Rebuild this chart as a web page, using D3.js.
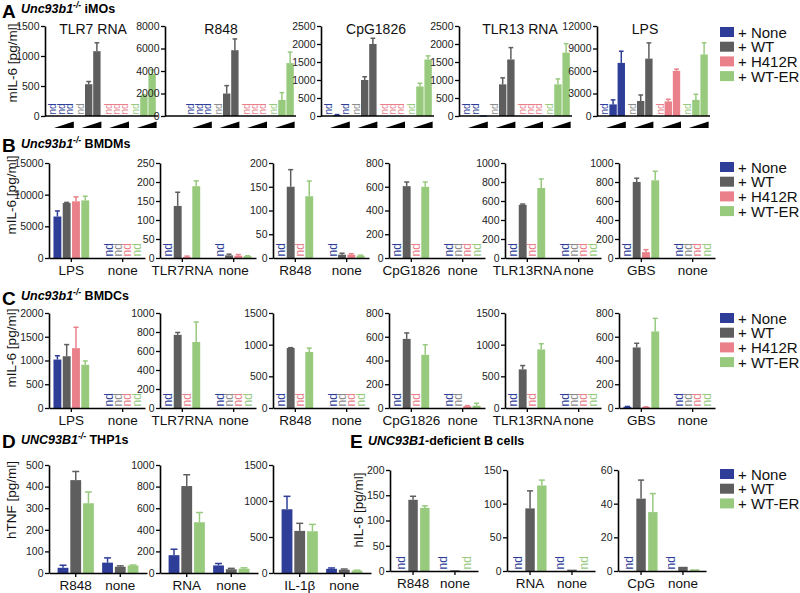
<!DOCTYPE html>
<html><head><meta charset="utf-8">
<script src="https://cdn.jsdelivr.net/npm/d3@7"></script>
<style>body{margin:0;background:#fff;} svg{display:block;}</style>
</head><body><svg id="c" width="800" height="593"></svg>
<script>
// ---------- DATA ----------
const seriesNames = ["+ None", "+ WT", "+ H412R", "+ WT-ER"];
const seriesColors = ["#2e3e98", "#5e5e5e", "#e9808a", "#98ca7e"];
const ndColors = ["#2e3e98", "#8c8c8c", "#e9808a", "#98ca7e"];

// Panel A (groups = None, WT, H412R, WT-ER; 3 doses each; null = nd)
const aTitles = ["TLR7 RNA", "R848", "CpG1826", "TLR13 RNA", "LPS"];
const aMax = [1500, 8000, 2500, 2500, 12000];
const aTicks = [[0, 500, 1000, 1500], [0, 2000, 4000, 6000, 8000], [0, 500, 1000, 1500, 2000, 2500], [0, 500, 1000, 1500, 2000, 2500], [0, 3000, 6000, 9000, 12000]];
const aValues = [
  [[null, null, null], [null, 530, 1080], [null, null, null], [null, 345, 700]],
  [[null, null, null], [null, 2000, 5850], [null, null, null], [null, 1430, 4700]],
  [[null, 30, null], [null, 1000, 2000], [null, null, null], [null, 820, 1570]],
  [[null, null, 15], [null, 880, 1570], [null, null, null], [null, 880, 1760]],
  [[null, 1550, 7080], [null, 2000, 7650], [null, 1950, 6020], [null, 2150, 8200]]
];
const aErrors = [
  [[0, 0, 0], [0, 45, 140], [0, 0, 0], [0, 8, 70]],
  [[0, 0, 0], [0, 700, 1000], [0, 0, 0], [0, 650, 980]],
  [[0, 10, 0], [0, 90, 160], [0, 0, 0], [0, 90, 100]],
  [[0, 0, 0], [0, 180, 330], [0, 0, 0], [0, 150, 250]],
  [[0, 600, 1560], [0, 800, 2100], [0, 280, 230], [0, 750, 1560]]
];

// Panel B (series = None, WT, H412R, WT-ER)
const bCategories = [["LPS", "none"], ["TLR7RNA", "none"], ["R848", "none"], ["CpG1826", "none"], ["TLR13RNA", "none"], ["GBS", "none"]];
const bMax = [15000, 250, 200, 800, 1000, 1000];
const bTicks = [[0, 5000, 10000, 15000], [0, 50, 100, 150, 200, 250], [0, 50, 100, 150, 200], [0, 200, 400, 600, 800], [0, 200, 400, 600, 800, 1000], [0, 200, 400, 600, 800, 1000]];
const bValues = [
  [[6550, 8680, 8950, 9100], [null, null, null, null]],
  [[null, 137, 3, 189], [null, 7, 6, 5]],
  [[null, 150, null, 130], [null, 7, 7, 5]],
  [[null, 605, null, 600], [null, null, null, null]],
  [[null, 560, null, 737], [null, null, null, null]],
  [[null, 800, 62, 818], [null, null, null, null]]
];
const bErrors = [
  [[880, 100, 700, 650], [0, 0, 0, 0]],
  [[0, 36, 2, 14], [0, 3, 3, 1]],
  [[0, 36, 0, 32], [0, 3, 2, 1]],
  [[0, 35, 0, 40], [0, 0, 0, 0]],
  [[0, 8, 0, 95], [0, 0, 0, 0]],
  [[0, 40, 26, 95], [0, 0, 0, 0]]
];

// Panel C
const cCategories = [["LPS", "none"], ["TLR7RNA", "none"], ["R848", "none"], ["CpG1826", "none"], ["TLR13RNA", "none"], ["GBS", "none"]];
const cMax = [2000, 1000, 1500, 800, 1500, 800];
const cTicks = [[0, 500, 1000, 1500, 2000], [0, 200, 400, 600, 800, 1000], [0, 500, 1000, 1500], [0, 200, 400, 600, 800], [0, 500, 1000, 1500], [0, 200, 400, 600, 800]];
const cValues = [
  [[1020, 1090, 1260, 910], [null, null, null, null]],
  [[null, 770, null, 695], [null, null, null, null]],
  [[null, 948, null, 885], [null, null, null, null]],
  [[null, 582, null, 448], [null, null, 15, 20]],
  [[null, 610, null, 925], [null, null, null, null]],
  [[10, 510, 8, 645], [null, null, null, null]]
];
const cErrors = [
  [[80, 245, 440, 80], [0, 0, 0, 0]],
  [[0, 25, 0, 210], [0, 0, 0, 0]],
  [[0, 5, 0, 60], [0, 0, 0, 0]],
  [[0, 50, 0, 85], [0, 0, 5, 20]],
  [[0, 60, 0, 90], [0, 0, 0, 0]],
  [[3, 35, 2, 110], [0, 0, 0, 0]]
];

// Panel D (series = None, WT, WT-ER)
const dSeries = [0, 1, 3];
const dCategories = [["R848", "none"], ["RNA", "none"], ["IL-1β", "none"]];
const dMax = [500, 1000, 1500];
const dTicks = [[0, 100, 200, 300, 400, 500], [0, 200, 400, 600, 800, 1000], [0, 500, 1000, 1500]];
const dValues = [
  [[24, 430, 323], [48, 29, 35]],
  [[165, 805, 470], [70, 35, 40]],
  [[885, 585, 580], [58, 45, 33]]
];
const dErrors = [
  [[12, 40, 52], [22, 4, 2]],
  [[55, 105, 90], [18, 8, 8]],
  [[180, 105, 95], [12, 10, 6]]
];

// Panel E (series = None, WT, WT-ER)
const eSeries = [0, 1, 3];
const eCategories = [["R848", "none"], ["RNA", "none"], ["CpG", "none"]];
const eMax = [200, 150, 60];
const eTicks = [[0, 50, 100, 150, 200], [0, 50, 100, 150], [0, 20, 40, 60]];
const eValues = [
  [[null, 141, 125], [null, 1.5, null]],
  [[null, 93, 127], [null, 2, null]],
  [[null, 43, 35], [null, 2.5, 1]]
];
const eErrors = [
  [[0, 7, 4], [0, 0, 0]],
  [[0, 26, 8], [0, 0, 0]],
  [[0, 11, 11], [0, 0, 0]]
];

// ---------- DRAWING ----------
const FONT = "'Liberation Sans', Arial, Helvetica, sans-serif";
const svg = d3.select("#c").attr("font-family", FONT);

function drawYAxis(g, y, ticks, x) {
  const ax = d3.axisLeft(y).tickValues(ticks).tickSize(4).tickSizeOuter(0).tickPadding(1.5).tickFormat(d3.format("d"));
  const gg = g.append("g").attr("transform", `translate(${x},0)`).call(ax);
  gg.select(".domain").attr("stroke", "#000").attr("stroke-width", 1.6);
  gg.selectAll(".tick line").attr("stroke", "#000").attr("stroke-width", 1.3);
  gg.selectAll(".tick text").attr("font-size", 10.5).attr("fill", "#222").attr("font-family", FONT);
}

function drawND(g, cx, y0, color, size) {
  g.append("text").attr("transform", `translate(${cx},${y0 - 1.5}) rotate(-90)`)
    .attr("text-anchor", "start").attr("dominant-baseline", "central")
    .attr("font-size", size).attr("fill", color).text("nd");
}

function drawBar(g, x, w, y, v, e, color) {
  const y0 = y(0);
  const yt = y(v);
  g.append("rect").attr("x", x).attr("y", yt).attr("width", w).attr("height", Math.max(1.2, y0 - yt)).attr("fill", color);
  if (e > 0) {
    const ye = y(v + e), cx = x + w / 2;
    g.append("line").attr("x1", cx).attr("x2", cx).attr("y1", yt).attr("y2", ye).attr("stroke", color).attr("stroke-width", 1.5);
    g.append("line").attr("x1", cx - w * 0.32).attr("x2", cx + w * 0.32).attr("y1", ye).attr("y2", ye).attr("stroke", color).attr("stroke-width", 1.5);
  }
}

// Generic grouped chart (B-E)
function groupedChart(opt) {
  const g = svg.append("g");
  const y = d3.scaleLinear().domain([0, opt.max]).range([opt.bottom, opt.top]);
  const x = d3.scaleBand().domain(opt.categories).range([opt.ax, opt.ax + opt.w]).paddingInner(opt.pi).paddingOuter(opt.po);
  const inner = d3.scaleBand().domain(d3.range(opt.series.length)).range([0, x.bandwidth()]).padding(opt.ip);
  opt.categories.forEach((cat, ci) => {
    opt.series.forEach((s, si) => {
      const v = opt.values[ci][si];
      const bx = x(cat) + inner(si);
      if (v === null) drawND(g, bx + inner.bandwidth() / 2, opt.bottom, ndColors[s], opt.ndSize);
      else drawBar(g, bx, inner.bandwidth(), y, v, opt.errors[ci][si], seriesColors[s]);
    });
  });
  drawYAxis(g, y, opt.ticks, opt.ax);
  const xa = d3.axisBottom(x).tickSize(4).tickSizeOuter(0).tickPadding(3);
  const gx = g.append("g").attr("transform", `translate(0,${opt.bottom})`).call(xa);
  gx.select(".domain").attr("stroke", "#000").attr("stroke-width", 1.6);
  gx.selectAll(".tick line").attr("stroke", "#000").attr("stroke-width", 1.3);
  gx.selectAll(".tick text").attr("font-size", 13.5).attr("fill", "#111").attr("font-family", FONT);
}

function legend(x, y0, step, idx) {
  const g = svg.append("g");
  idx.forEach((s, i) => {
    const cy = y0 + i * step;
    g.append("rect").attr("x", x).attr("y", cy - 5).attr("width", 14).attr("height", 10).attr("fill", seriesColors[s]);
    g.append("text").attr("x", x + 18).attr("y", cy).attr("dominant-baseline", "central")
      .attr("font-size", 15).attr("fill", "#111").text(seriesNames[s]);
  });
}

function header(letter, lx, ly, tx, ty, italicPart, sup, rest) {
  svg.append("text").attr("x", lx).attr("y", ly).attr("font-size", 19).attr("font-weight", "bold").text(letter);
  const t = svg.append("text").attr("x", tx).attr("y", ty).attr("font-size", 12.5).attr("font-weight", "bold");
  t.append("tspan").attr("font-style", "italic").text(italicPart);
  if (sup) t.append("tspan").attr("font-style", "italic").attr("font-size", 8.5).attr("dy", -5).text(sup);
  t.append("tspan").attr("dy", sup ? 5 : 0).text(rest);
}

function yLabel(text, x, y) {
  svg.append("text").attr("transform", `translate(${x},${y}) rotate(-90)`).attr("text-anchor", "middle")
    .attr("font-size", 13.5).attr("fill", "#111").text(text);
}

// ----- Panel A -----
header("A", 2, 18, 21, 13, "Unc93b1", "-/-", " iMOs");
yLabel("mIL-6 [pg/ml]", 17, 63);
const aAx = [45, 165, 321, 459, 597];
const aStart = [47, 185, 323, 461, 599];
const aEnd = [158, 296, 434, 572, 710];
const aTitleX = [93, 221, 376, 520, 645];
const aGroups = [0, 1, 2, 3];
aTitles.forEach((title, k) => {
  const g = svg.append("g");
  const top = 26, bottom = 116, ax = aAx[k];
  const y = d3.scaleLinear().domain([0, aMax[k]]).range([bottom, top]);
  const x = d3.scaleBand().domain(aGroups).range([aStart[k], aEnd[k]]).paddingInner(0.08).paddingOuter(0.05);
  const inner = d3.scaleBand().domain([0, 1, 2]).range([0, x.bandwidth()]).padding(0.1);
  aGroups.forEach(gi => {
    [0, 1, 2].forEach(di => {
      const v = aValues[k][gi][di];
      const bx = x(gi) + inner(di);
      if (v === null) drawND(g, bx + inner.bandwidth() / 2, bottom, ndColors[gi], 10);
      else drawBar(g, bx, inner.bandwidth(), y, v, aErrors[k][gi][di], seriesColors[gi]);
    });
    // dose ramp
    const x0 = x(gi) + x.bandwidth() * 0.22, x1 = x(gi) + x.bandwidth();
    g.append("path").attr("d", `M${x0},128 L${x1},128 L${x1},121.5 Z`).attr("fill", "#000");
  });
  drawYAxis(g, y, aTicks[k], ax);
  g.append("line").attr("x1", ax).attr("x2", aEnd[k]).attr("y1", bottom).attr("y2", bottom).attr("stroke", "#000").attr("stroke-width", 1.6);
  g.append("text").attr("x", aTitleX[k]).attr("y", 34).attr("text-anchor", "middle").attr("font-size", 14).attr("fill", "#111").text(title);
});
legend(720, 32, 14.7, [0, 1, 2, 3]);

// ----- Panel B -----
header("B", 2, 152, 21, 148, "Unc93b1", "-/-", " BMDMs");
yLabel("mIL-6 [pg/ml]", 16, 195);
const bcAx = [49, 160, 273, 389, 505, 619];
bCategories.forEach((cats, k) => {
  groupedChart({ ax: bcAx[k], w: 96, top: 163, bottom: 258, max: bMax[k], ticks: bTicks[k], categories: cats,
    series: [0, 1, 2, 3], values: bValues[k], errors: bErrors[k], pi: 0.25, po: 0.06, ip: 0.15, ndSize: 12 });
});
legend(720, 167, 14.7, [0, 1, 2, 3]);

// ----- Panel C -----
header("C", 2, 305, 21, 300, "Unc93b1", "-/-", " BMDCs");
yLabel("mIL-6 [pg/ml]", 16, 348);
cCategories.forEach((cats, k) => {
  groupedChart({ ax: bcAx[k], w: 96, top: 313, bottom: 408, max: cMax[k], ticks: cTicks[k], categories: cats,
    series: [0, 1, 2, 3], values: cValues[k], errors: cErrors[k], pi: 0.25, po: 0.06, ip: 0.15, ndSize: 12 });
});
legend(720, 318, 14.7, [0, 1, 2, 3]);

// ----- Panel D -----
header("D", 2, 448, 21, 444, "UNC93B1", "-/-", " THP1s");
yLabel("hTNF [pg/ml]", 16, 500);
const dAx = [49, 160, 273];
dCategories.forEach((cats, k) => {
  groupedChart({ ax: dAx[k], w: 98, top: 465, bottom: 573, max: dMax[k], ticks: dTicks[k], categories: cats,
    series: dSeries, values: dValues[k], errors: dErrors[k], pi: 0.1, po: 0.15, ip: 0.15, ndSize: 12 });
});

// ----- Panel E -----
header("E", 350, 448, 368, 445, "UNC93B1", "", "-deficient B cells");
yLabel("hIL-6 [pg/ml]", 363, 510);
const eAx = [390, 507, 618];
eCategories.forEach((cats, k) => {
  groupedChart({ ax: eAx[k], w: 88, top: 470, bottom: 571, max: eMax[k], ticks: eTicks[k], categories: cats,
    series: eSeries, values: eValues[k], errors: eErrors[k], pi: 0.1, po: 0.1, ip: 0.2, ndSize: 12 });
});
legend(720, 474, 14.7, [0, 1, 3]);
</script>
</body></html>
